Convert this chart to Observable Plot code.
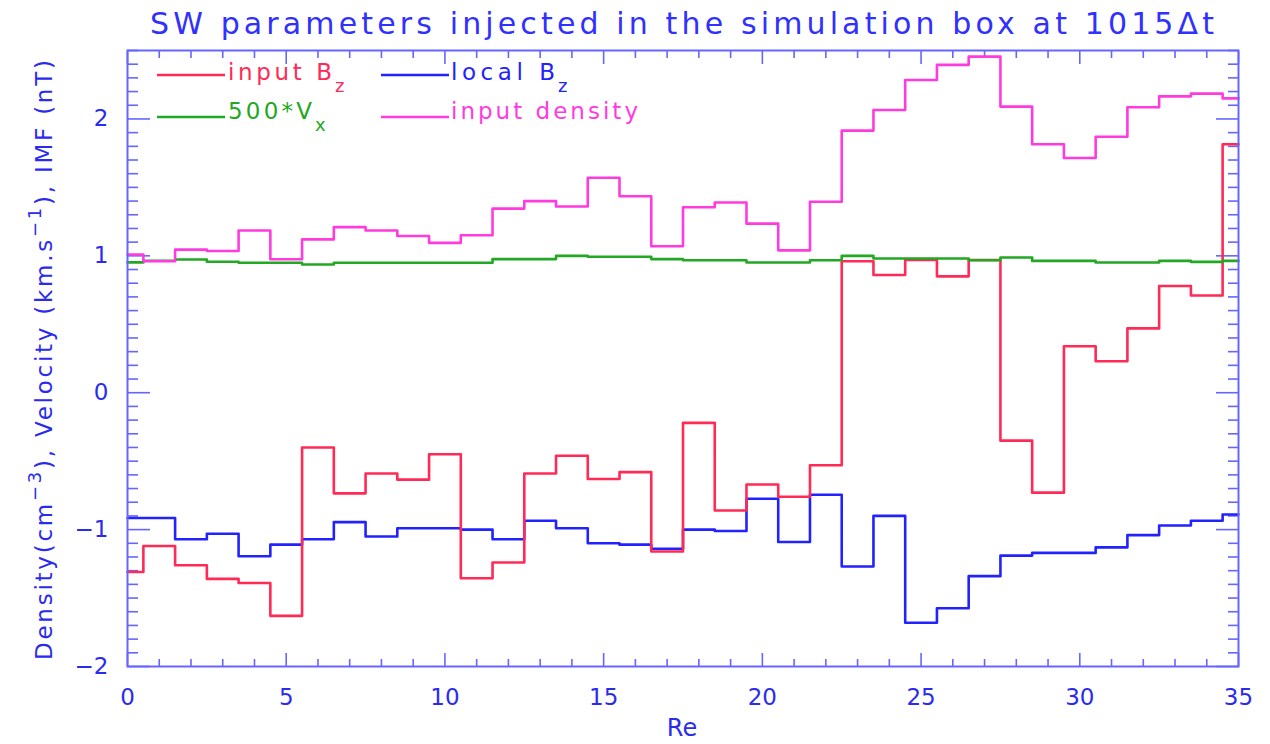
<!DOCTYPE html>
<html>
<head>
<meta charset="utf-8">
<script src="https://cdn.jsdelivr.net/npm/d3@7"></script>
<script src="https://cdn.jsdelivr.net/npm/@observablehq/plot@0.6"></script>
<style>
  body { margin: 0; background: #ffffff; }
  #chart { position: relative; width: 1270px; height: 744px; }
</style>
</head>
<body>
<div id="chart"></div>
<script>
// ---- data ----
const re = [0,1,2,3,4,5,6,7,8,9,10,11,12,13,14,15,16,17,18,19,20,21,22,23,24,25,26,27,28,29,30,31,32,33,34,35];
const inputBz = [-1.31,-1.12,-1.26,-1.36,-1.39,-1.63,-0.40,-0.735,-0.59,-0.635,-0.45,-1.355,-1.24,-0.59,-0.46,-0.63,-0.58,-1.16,-0.22,-0.86,-0.67,-0.76,-0.53,0.96,0.86,0.97,0.85,0.97,-0.35,-0.73,0.34,0.23,0.47,0.78,0.71,1.815];
const localBz = [-0.915,-0.915,-1.07,-1.03,-1.195,-1.11,-1.07,-0.945,-1.05,-0.99,-0.99,-1.0,-1.07,-0.935,-0.99,-1.10,-1.11,-1.14,-1.0,-1.01,-0.775,-1.09,-0.745,-1.27,-0.90,-1.68,-1.575,-1.34,-1.19,-1.17,-1.17,-1.13,-1.04,-0.97,-0.935,-0.89];
const vx500 = [0.952,0.964,0.973,0.957,0.95,0.95,0.937,0.95,0.95,0.95,0.95,0.95,0.976,0.976,1.0,0.993,0.993,0.976,0.968,0.968,0.951,0.951,0.968,1.0,0.98,0.98,0.98,0.968,0.988,0.963,0.963,0.951,0.951,0.963,0.956,0.963];
const inputDensity = [1.01,0.96,1.045,1.035,1.185,0.975,1.12,1.21,1.185,1.145,1.095,1.15,1.345,1.40,1.36,1.57,1.435,1.07,1.355,1.39,1.235,1.04,1.395,1.915,2.065,2.285,2.395,2.455,2.09,1.815,1.715,1.87,2.085,2.165,2.185,2.15];

const seriesNames = ["local Bz", "input Bz", "500*Vx", "input density"];
const seriesValues = [localBz, inputBz, vx500, inputDensity];
const seriesColors = ["#2222ff", "#ff2a55", "#22a822", "#ff3be0"];

const xMajorTicks = [0,5,10,15,20,25,30,35];
const xMinorTicks = re.filter(d => d % 5 !== 0);
const yMajorTicks = [-2,-1,0,1,2];
const yMinorTicks = d3.range(-20, 26).filter(d => d % 10 !== 0).map(d => d / 10);

const titleText = "SW parameters injected in the simulation box at 1015\u0394t";
const xLabel = "Re";

// long table
const rows = [];
seriesNames.forEach((name, k) => {
  re.forEach((x, i) => rows.push({re: x, value: seriesValues[k][i], series: name}));
});

const AX = "#6666ff";     // axis lines
const LBL = "#2b2bf0";    // axis text
const FONT = "DejaVu Sans";
const intFmt = d => (d < 0 ? "\u2212" : "") + Math.abs(d);

const tickOpts = {stroke: AX, fill: "none", strokeWidth: 1.6};

const plot = Plot.plot({
  width: 1270,
  height: 744,
  marginTop: 50,
  marginBottom: 78,
  marginLeft: 127,
  marginRight: 32,
  style: {fontFamily: FONT, background: "#ffffff", overflow: "visible"},
  x: {domain: [0, 35]},
  y: {domain: [-2, 2.5]},
  color: {domain: seriesNames, range: seriesColors},
  marks: [
    // inward ticks on all four sides
    Plot.axisX(xMinorTicks, {anchor: "bottom", tickSize: -7, ...tickOpts}),
    Plot.axisX(xMajorTicks, {anchor: "bottom", tickSize: -13, ...tickOpts}),
    Plot.axisX(xMinorTicks, {anchor: "top", tickSize: -7, ...tickOpts}),
    Plot.axisX(xMajorTicks, {anchor: "top", tickSize: -13, ...tickOpts}),
    Plot.axisY(yMinorTicks, {anchor: "left", tickSize: -11, ...tickOpts}),
    Plot.axisY(yMajorTicks, {anchor: "left", tickSize: -23, ...tickOpts}),
    Plot.axisY(yMinorTicks, {anchor: "right", tickSize: -11, ...tickOpts}),
    Plot.axisY(yMajorTicks, {anchor: "right", tickSize: -23, ...tickOpts}),
    // tick labels
    Plot.axisX(xMajorTicks, {anchor: "bottom", tickSize: 0, tickPadding: 22, fontSize: 23, fill: LBL, label: null, tickFormat: intFmt}),
    Plot.axisY(yMajorTicks, {anchor: "left", tickSize: 0, tickPadding: 19, fontSize: 23, fill: LBL, label: null, tickFormat: intFmt}),
    // data
    Plot.line(rows, {x: "re", y: "value", z: "series", stroke: "series", curve: "step", strokeWidth: 2.6}),
    Plot.frame({stroke: AX, strokeWidth: 2})
  ]
});

document.getElementById("chart").appendChild(plot);

// ---- text decorations: title, axis labels, legend ----
const svg = d3.select(plot);
const g = svg.append("g").attr("font-family", FONT).attr("text-anchor", "start");

g.append("text")
  .attr("x", 682).attr("y", 34)
  .attr("text-anchor", "middle")
  .attr("font-size", 30)
  .attr("fill", "#3030ff")
  .attr("textLength", 1064).attr("lengthAdjust", "spacing")
  .text(titleText);

g.append("text")
  .attr("x", 682).attr("y", 736)
  .attr("text-anchor", "middle")
  .attr("font-size", 24)
  .attr("fill", LBL)
  .text(xLabel);

const yl = g.append("text")
  .attr("transform", "translate(52,360) rotate(-90)")
  .attr("text-anchor", "middle")
  .attr("font-size", 23)
  .attr("fill", LBL)
  .attr("textLength", 600).attr("lengthAdjust", "spacing");
yl.append("tspan").text("Density(cm");
yl.append("tspan").attr("dy", -11).attr("font-size", 18).text("\u22123");
yl.append("tspan").attr("dy", 11).text("), Velocity (km.s");
yl.append("tspan").attr("dy", -11).attr("font-size", 18).text("\u22121");
yl.append("tspan").attr("dy", 11).text("), IMF (nT)");

const legendItems = [
  {text: "input B", sub: "z", color: "#ff2a55", lx: 157, ly: 75, tx: 228, ty: 80, tlen: 104, sx: 335},
  {text: "local B", sub: "z", color: "#2222ff", lx: 381, ly: 75, tx: 451, ty: 80, tlen: 104, sx: 558},
  {text: "500*V", sub: "x", color: "#22a822", lx: 157, ly: 117, tx: 228, ty: 119, tlen: 84, sx: 315},
  {text: "input density", sub: "", color: "#ff3be0", lx: 381, ly: 117, tx: 451, ty: 119, tlen: 187, sx: 0}
];
legendItems.forEach(d => {
  g.append("line")
    .attr("x1", d.lx).attr("x2", d.lx + 68)
    .attr("y1", d.ly).attr("y2", d.ly)
    .attr("stroke", d.color).attr("stroke-width", 2.6);
  g.append("text")
    .attr("x", d.tx).attr("y", d.ty)
    .attr("text-anchor", "start")
    .attr("font-size", 23).attr("fill", d.color)
    .attr("textLength", d.tlen).attr("lengthAdjust", "spacing")
    .text(d.text);
  if (d.sub) {
    g.append("text")
      .attr("x", d.sx).attr("y", d.ty + 12)
      .attr("text-anchor", "start")
      .attr("font-size", 18).attr("fill", d.color)
      .text(d.sub);
  }
});
</script>
</body>
</html>
